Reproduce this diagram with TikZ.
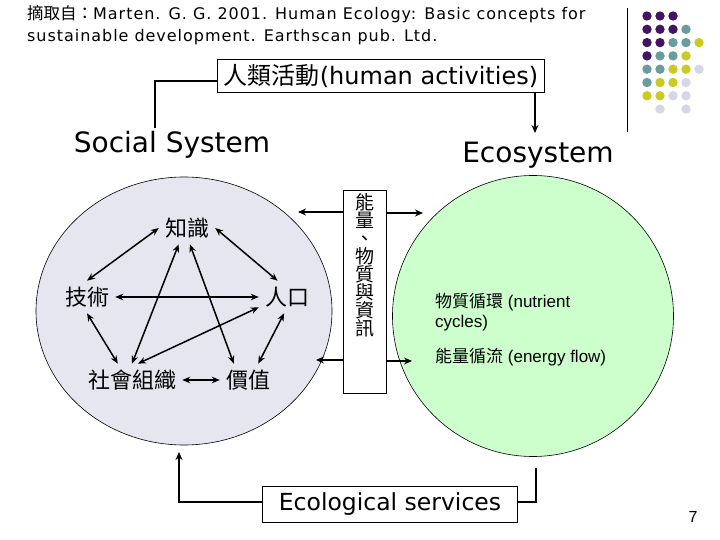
\documentclass[tikz,border=0pt]{standalone}
\usepackage{fontspec}
\setmainfont{DejaVu Sans}
\newfontfamily\citefont{DejaVu Sans}[LetterSpace=6]
\newfontfamily\cjk{Noto Sans CJK TC}
\newfontfamily\arialfont{Liberation Sans}
\usetikzlibrary{arrows.meta, positioning, shapes.geometric}

\definecolor{socfill}{RGB}{230,230,240}
\definecolor{ecofill}{RGB}{204,255,204}
\definecolor{dotpurple}{RGB}{66,20,98}
\definecolor{dotteal}{RGB}{104,156,158}
\definecolor{dotyellow}{RGB}{202,202,34}
\definecolor{dotlilac}{RGB}{214,214,234}

\tikzset{
  word/.style={font=\cjk\fontsize{22}{22}\selectfont, inner sep=6pt},
  link/.style={<->, line width=1.5pt, >={Stealth[length=8pt,width=6.5pt]}},
  flow/.style={->, line width=1.8pt, >={Stealth[length=8pt,width=7pt]}},
  bigline/.style={line width=2.6pt, >={Stealth[length=8pt,width=7pt]}},
  labelbox/.style={draw, rectangle, line width=0.8pt, inner sep=0pt},
}

\begin{document}
\begin{tikzpicture}[x=1pt, y=-1pt, >=Stealth]
    \useasboundingbox (0,0) rectangle (720,540);

    % citation and corner dots
    \node[anchor=north west, align=left, inner sep=0pt, font=\citefont\fontsize{16}{22}\selectfont] (cite) at (27,5)
        {{\cjk\fontsize{16.5}{22}\selectfont 摘取自：}Marten. G. G. 2001. Human Ecology: Basic concepts for\\sustainable development. Earthscan pub. Ltd.};
    \draw[line width=0.8pt] (627,8) -- (627,132);
    \foreach \c/\r/\col in {0/0/dotpurple, 1/0/dotpurple, 2/0/dotpurple,
        0/1/dotpurple, 1/1/dotpurple, 2/1/dotpurple, 3/1/dotteal,
        0/2/dotpurple, 1/2/dotpurple, 2/2/dotteal, 3/2/dotteal, 4/2/dotyellow,
        0/3/dotpurple, 1/3/dotteal, 2/3/dotteal, 3/3/dotyellow,
        0/4/dotteal, 1/4/dotteal, 2/4/dotyellow, 3/4/dotyellow, 4/4/dotlilac,
        0/5/dotteal, 1/5/dotyellow, 2/5/dotyellow, 3/5/dotlilac,
        0/6/dotyellow, 1/6/dotyellow, 2/6/dotlilac, 3/6/dotlilac,
        1/7/dotlilac, 3/7/dotlilac}
        \fill[\col] (647+13*\c, 16+13.3*\r) circle[radius=4.7];

    % the two systems
    \node[ellipse, draw, fill=socfill, minimum width=296, minimum height=268, line width=0.6pt] (social) at (184,311) {};
    \node[circle, draw, fill=ecofill, minimum size=281, line width=0.6pt] (eco) at (533,316) {};
    \node[font=\fontsize{28}{28}\selectfont] (soctitle) at (172,145) {Social System};
    \node[font=\fontsize{28}{28}\selectfont] (ecotitle) at (538,155) {Ecosystem};

    \node[labelbox, minimum width=327, minimum height=33, font=\fontsize{24}{24}\selectfont] (act) at (381,76)
        {{\cjk 人類活動}(human activities)};
    \coordinate (actend) at (155,128);
    \coordinate (ecotop) at (535,133);
    \draw[bigline] ([yshift=-5pt]act.west) -| (actend);
    \draw[bigline, ->] (act.south -| ecotop) -- (ecotop);

    % energy, matter and information
    \node[labelbox, anchor=north] (mid) at (364.5,190)
        {\parbox[t][203pt][t]{43pt}{\vspace*{3pt}\centering\cjk\fontsize{19}{18}\selectfont\lineskiplimit=-20pt
        能\\量\\、\\物\\質\\與\\資\\訊}};
    \coordinate (socin1) at (298,212);
    \coordinate (socin2) at (316,360);
    \coordinate (ecoin1) at (423,213);
    \coordinate (ecoin2) at (412,361);
    \draw[flow] (mid.west |- socin1) -- (socin1);
    \draw[flow] (mid.west |- socin2) -- (socin2);
    \draw[flow] (mid.east |- ecoin1) -- (ecoin1);
    \draw[flow] (mid.east |- ecoin2) -- (ecoin2);

    \node[word] (zhi) at (187,228) {知識};
    \node[word] (ji) at (87,297) {技術};
    \node[word] (ren) at (287,297) {人口};
    \node[word] (she) at (132,380) {社會組織};
    \node[word] (jia) at (248,380) {價值};

    \draw[link] (zhi.west) -- (ji.north);
    \draw[link] (zhi.east) -- (ren.120);
    \draw[link] (ji.east) -- (ren.west);
    \draw[link] (ji.south) -- (she.131);
    \draw[link] (zhi.243) -- (she.north);
    \draw[link] (zhi.280) -- (jia.131);
    \draw[link] (ren.200) -- (she.70);
    \draw[link] (ren.260) -- (jia.58);
    \draw[link] (she.east) -- (jia.west);

    \node[anchor=north west, align=left, inner sep=0pt, font=\arialfont\fontsize{17}{20}\selectfont] (cycles) at (435,293)
        {{\cjk 物質循環} (nutrient\\cycles)};
    \node[anchor=west, inner sep=0pt, font=\arialfont\fontsize{17}{20}\selectfont] (energy) at (435,357)
        {{\cjk 能量循流} (energy flow)};

    % services back to society
    \node[labelbox, minimum width=255, minimum height=36, font=\fontsize{23.5}{23.5}\selectfont] (serv) at (390,504) {Ecological services\hspace{14pt}};
    \coordinate (servout) at (179,452);
    \coordinate (servin) at (536,468);
    \draw[bigline, ->] ([yshift=2pt]serv.west) -| (servout);
    \draw[bigline] ([yshift=2pt]serv.east) -| (servin);

    \node[font=\arialfont\fontsize{16}{16}\selectfont] (pagenum) at (693,517) {7};
\end{tikzpicture}
\end{document}
